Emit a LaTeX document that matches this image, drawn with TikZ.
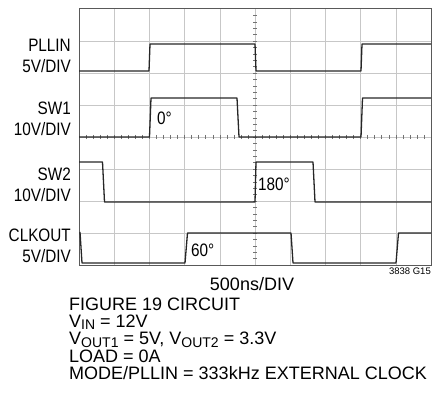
\documentclass[tikz,border=0pt]{standalone}
\usepackage{fontspec}
\setmainfont{Liberation Sans}
\newfontfamily\narrowfont{Liberation Sans}[FakeStretch=0.85]
\tikzset{>=latex}
\colorlet{gridgray}{black!22}
\colorlet{framegray}{black!65}
\newcommand{\lowtxt}[1]{\raisebox{-2.2pt}{\fontsize{14}{14}\selectfont #1}}
\newcommand{\tightlines}{\lineskiplimit=-20pt\relax}

\begin{document}
\begin{tikzpicture}[x=1pt,y=-1pt,
    trace/.style={black!85,line width=1.3pt,line join=round},
    chan/.style={anchor=east,align=right,inner sep=0pt,
                 font=\narrowfont\fontsize{18}{21}\selectfont},
    phase/.style={anchor=west,inner sep=0pt,font=\narrowfont\fontsize{18}{20}\selectfont},
    note/.style={anchor=north west,align=left,inner sep=0pt,
                 font=\fontsize{18}{17.3}\selectfont\tightlines}]
  \useasboundingbox (0,0) rectangle (433,398);
  % grid
  \foreach \i in {1,...,9}
    \draw[gridgray,line width=0.5pt] ({79+35.2*\i},9) -- ({79+35.2*\i},265);
  \foreach \j in {1,...,7}
    \draw[gridgray,line width=0.5pt] (79,{9+32*\j}) -- (431,{9+32*\j});
  % ticks on the centre lines
  \foreach \k in {1,...,39}
    \draw[black!55,line width=0.5pt] (253,{9+6.4*\k}) -- (257,{9+6.4*\k});
  \foreach \k in {1,...,49}
    \draw[black!55,line width=0.5pt] ({79+7.04*\k},135) -- ({79+7.04*\k},139);
  \draw[framegray,line width=1pt] (79,9) rectangle (431,265);
  % traces
  \draw[trace] (79,71) -- (149,71) -- (150,44) -- (255,44) -- (256,71)
    -- (361,71) -- (362,44) -- (431,44);
  \draw[trace] (79,137) -- (149.5,137) -- (151,98) -- (237,98) -- (239,137)
    -- (361,137) -- (362.5,98) -- (431,98);
  \draw[trace] (79,162) -- (102.5,162) -- (104.5,202) -- (255,202) -- (256,162)
    -- (313,162) -- (315,202) -- (431,202);
  \draw[trace] (80,232) -- (82,263) -- (185,263) -- (187.5,233) -- (291,233)
    -- (293,263) -- (396,263) -- (398.5,233) -- (431,233);
  % channel labels
  \node[chan] (pllin)  at (71,56)  {PLLIN\\5V/DIV};
  \node[chan] (swone)  at (71,119) {SW1\\10V/DIV};
  \node[chan] (swtwo)  at (71,185) {SW2\\10V/DIV};
  \node[chan] (clkout) at (71,246) {CLKOUT\\5V/DIV};
  % phase labels
  \node[phase] (ph0)   at (157,118) {0°};
  \node[phase] (ph180) at (258,184) {180°};
  \node[phase] (ph60)  at (191,250) {60°};
  % time base and notes
  \node[inner sep=0pt,font=\fontsize{18}{20}\selectfont] (tdiv) at (252,284.5) {500ns/DIV};
  \node[anchor=east,inner sep=0pt,font=\fontsize{9.5}{12}\selectfont] (code) at (431,271.5) {3838 G15};
  \node[note] (notes) at (69,297.5) {FIGURE 19 CIRCUIT\\
    V\lowtxt{IN} = 12V\\
    V\lowtxt{OUT1} = 5V, V\lowtxt{OUT2} = 3.3V\\
    LOAD = 0A\\
    MODE/PLLIN = 333kHz EXTERNAL CLOCK};
\end{tikzpicture}
\end{document}
